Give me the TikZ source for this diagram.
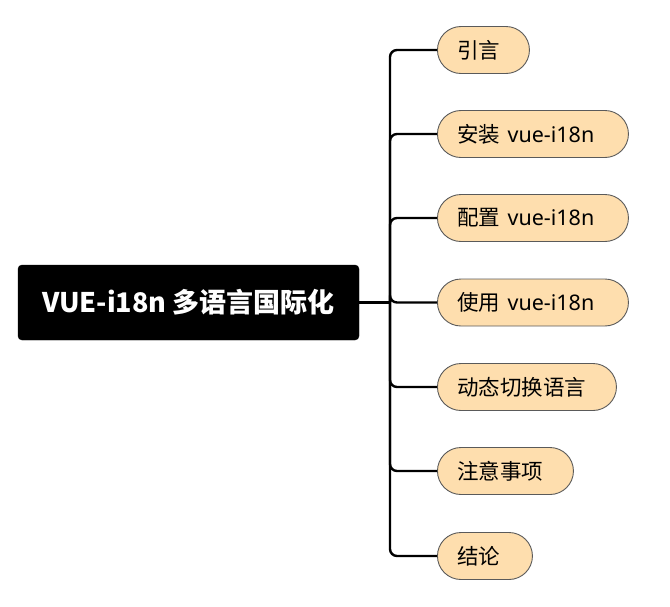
\documentclass[tikz,border=0pt]{standalone}
\usepackage{fontspec}
\setmainfont{Noto Sans CJK SC}
\newfontfamily\latfont{Noto Sans}
\definecolor{peach}{HTML}{FEDEAE}
\definecolor{edgegrey}{HTML}{5A5A5A}
\begin{document}
\begin{tikzpicture}[x=1pt,y=-1pt,
  rootbox/.style={draw=black,fill=black,rounded corners=4pt,text=white,
    minimum width=341pt,minimum height=75pt,inner sep=0pt,
    font=\fontsize{27pt}{30pt}\selectfont\bfseries},
  childbox/.style={rectangle,rounded corners=23.5pt,draw=edgegrey,line width=0.9pt,fill=peach,
    minimum height=47pt,inner xsep=20pt,inner ysep=0pt,align=left,anchor=west,
    font=\fontsize{21.5pt}{24pt}\selectfont},
  conn/.style={line width=2.4pt,draw=black,rounded corners=7pt}]
\useasboundingbox (0,0) rectangle (670,606);
\node[rootbox] (root) at (188.5,302.5) {VUE-i18n 多语言国际化};
\coordinate (tr) at (390,302.5);
\node[childbox,text width=52pt]  (c1) at (437,50) {引言};
\node[childbox,text width=151pt] (c2) at (437,134) {安装{\latfont\ vue-i18n}};
\node[childbox,text width=151pt] (c3) at (437,218) {配置{\latfont\ vue-i18n}};
\node[childbox,text width=151pt] (c4) at (437,302.5) {使用{\latfont\ vue-i18n}};
\node[childbox,text width=139pt] (c5) at (437,387) {动态切换语言};
\node[childbox,text width=96pt]  (c6) at (437,471) {注意事项};
\node[childbox,text width=55pt]  (c7) at (437,556) {结论};
\draw[conn] (root.east) -- (tr);
\foreach \c in {c1,c2,c3,c4,c5,c6,c7}{
  \draw[conn] (tr) |- (\c.west);
}
\end{tikzpicture}
\end{document}
